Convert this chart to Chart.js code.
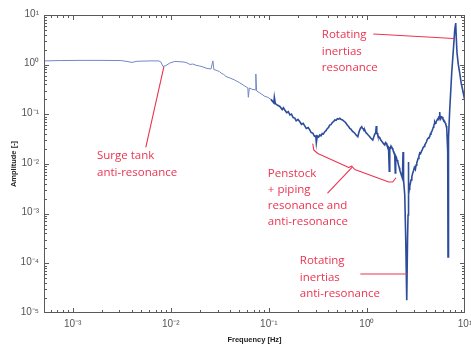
<!DOCTYPE html>
<html>
<head>
<meta charset="utf-8">
<script src="https://cdn.jsdelivr.net/npm/chart.js@4"></script>
<style>
  html, body { margin: 0; padding: 0; background: #fff; }
  #wrap { width: 471px; height: 348px; position: relative; }
</style>
</head>
<body>
<div id="wrap"><canvas id="c" width="471" height="348"></canvas></div>
<script>
// ---- data (frequency in Hz, amplitude [-]) ----
const freqHz = [
  5.1e-4, 7.4e-4, 1.19e-3, 1.9e-3, 3.1e-3, 3.58e-3, 4.02e-3, 4.52e-3, 6.13e-3, 7.57e-3,
  7.93e-3, 8.32e-3, 8.92e-3, 9.8e-3, 1.10e-2, 1.30e-2, 1.43e-2, 1.57e-2, 1.68e-2, 1.85e-2,
  1.98e-2, 2.13e-2, 2.34e-2, 2.57e-2, 2.69e-2, 2.75e-2, 3.02e-2, 3.15e-2, 3.32e-2, 3.45e-2,
  3.65e-2, 4.0e-2, 4.5e-2, 5.06e-2, 5.69e-2, 6.11e-2, 6.18e-2, 6.33e-2, 6.71e-2, 7.29e-2,
  7.37e-2, 7.51e-2, 8.1e-2, 9.1e-2, 9.77e-2, 0.105, 0.1125, 0.1138, 0.1165, 0.123,
  0.1295, 0.137, 0.141, 0.1455, 0.152, 0.158, 0.164, 0.17, 0.177, 0.184,
  0.19, 0.198, 0.207, 0.215, 0.224, 0.233, 0.241, 0.252, 0.262, 0.27,
  0.281, 0.292, 0.301, 0.305, 0.312, 0.322, 0.331, 0.34, 0.35, 0.36,
  0.372, 0.383, 0.395, 0.405, 0.418, 0.43, 0.445, 0.457, 0.47, 0.485,
  0.5, 0.515, 0.529, 0.545, 0.56, 0.578, 0.595, 0.612, 0.63, 0.65,
  0.669, 0.69, 0.71, 0.73, 0.752, 0.78, 0.807, 0.825, 0.84, 0.862,
  0.886, 0.9, 0.92, 0.935, 0.951, 0.975, 1.0, 1.035, 1.069, 1.1,
  1.147, 1.17, 1.19, 1.21, 1.231, 1.245, 1.26, 1.275, 1.29, 1.31,
  1.33, 1.352, 1.39, 1.43, 1.47, 1.52, 1.55, 1.58, 1.60, 1.631,
  1.66, 1.69, 1.71, 1.73, 1.76, 1.78, 1.81, 1.834, 1.86, 1.88,
  1.90, 1.922, 1.945, 1.965, 1.991, 2.03, 2.062, 2.11, 2.14, 2.161,
  2.21, 2.265, 2.30, 2.335, 2.35, 2.374, 2.43, 2.488, 2.547, 2.595,
  2.626, 2.644, 2.669, 2.70, 2.733, 2.78, 2.82, 2.87, 2.932, 2.99,
  3.05, 3.12, 3.17, 3.221, 3.28, 3.33, 3.39, 3.456, 3.52, 3.6,
  3.67, 3.75, 3.82, 3.886, 3.97, 4.05, 4.12, 4.2, 4.28, 4.37,
  4.43, 4.5, 4.6, 4.687, 4.75, 4.8, 4.86, 4.912, 4.98, 5.05,
  5.15, 5.271, 5.33, 5.4, 5.47, 5.524, 5.57, 5.655, 5.75, 5.85,
  5.95, 6.067, 6.13, 6.2, 6.28, 6.359, 6.43, 6.51, 6.665, 6.711,
  6.79, 6.984, 7.32, 7.67, 7.855, 8.04, 8.17, 8.29, 8.55, 8.83,
  9.15, 9.475, 9.93
];
const amplitude = [
  1.19, 1.21, 1.22, 1.22, 1.21, 1.16, 1.11, 1.17, 1.19, 1.19,
  1.13, 0.92, 0.96, 1.08, 1.16, 1.14, 1.11, 1.01, 1.03, 0.96,
  0.94, 0.90, 0.84, 0.82, 1.19, 0.80, 0.75, 0.72, 0.66, 0.64,
  0.58, 0.54, 0.49, 0.43, 0.37, 0.34, 0.22, 0.34, 0.32, 0.31,
  0.65, 0.295, 0.27, 0.23, 0.22, 0.20, 0.17, 0.22, 0.165, 0.152,
  0.144, 0.125, 0.136, 0.122, 0.108, 0.113, 0.097, 0.101, 0.086, 0.084,
  0.074, 0.079, 0.071, 0.063, 0.066, 0.058, 0.052, 0.054, 0.048, 0.043,
  0.042, 0.036, 0.0366, 0.0265, 0.0366, 0.035, 0.0384, 0.037, 0.041, 0.040,
  0.0447, 0.047, 0.052, 0.054, 0.061, 0.062, 0.069, 0.071, 0.077, 0.076,
  0.082, 0.080, 0.083, 0.079, 0.078, 0.074, 0.071, 0.066, 0.061, 0.057,
  0.052, 0.050, 0.046, 0.044, 0.0415, 0.038, 0.0355, 0.042, 0.047, 0.053,
  0.0564, 0.052, 0.051, 0.047, 0.0484, 0.043, 0.041, 0.038, 0.0355, 0.033,
  0.0304, 0.034, 0.038, 0.041, 0.0447, 0.058, 0.043, 0.042, 0.038, 0.036,
  0.035, 0.0334, 0.030, 0.028, 0.026, 0.0241, 0.027, 0.026, 0.024, 0.023,
  0.022, 0.0072, 0.021, 0.0207, 0.023, 0.022, 0.021, 0.0201, 0.018, 0.017,
  0.0165, 0.0152, 0.0066, 0.0145, 0.0138, 0.0121, 0.0110, 0.0092, 0.0084, 0.0076,
  0.0066, 0.0057, 0.0052, 0.0175, 0.0050, 0.0048, 0.0024, 0.0003, 1.8e-5, 0.0003,
  0.00094, 0.011, 0.0024, 0.0031, 0.0036, 0.0042, 0.0048, 0.0055, 0.0066, 0.0074,
  0.0085, 0.0078, 0.0095, 0.0105, 0.0118, 0.013, 0.0145, 0.0167, 0.0162, 0.018,
  0.0195, 0.0215, 0.0225, 0.0241, 0.026, 0.028, 0.031, 0.033, 0.034, 0.0355,
  0.040, 0.042, 0.046, 0.0507, 0.055, 0.058, 0.064, 0.0701, 0.066, 0.068,
  0.075, 0.0806, 0.078, 0.086, 0.084, 0.1115, 0.085, 0.0832, 0.089, 0.088,
  0.081, 0.0769, 0.074, 0.071, 0.067, 0.0639, 0.058, 0.0531, 0.0175, 1.34e-4,
  0.0334, 0.122, 0.68, 2.49, 4.99, 6.9, 3.14, 1.72, 1.0, 0.68,
  0.42, 0.309, 0.194
];

// ---- axes ----
const xRange = [5.1e-4, 10];
const yRange = [1e-5, 10];
const xMajorTicks = [1e-3, 1e-2, 1e-1, 1, 10];
const xTickLabels = ['10\u207B\u00B3', '10\u207B\u00B2', '10\u207B\u00B9', '10\u2070', '10\u00B9'];
const yMajorTicks = [1e-5, 1e-4, 1e-3, 1e-2, 1e-1, 1, 10];
const yTickLabels = ['10\u207B\u2075', '10\u207B\u2074', '10\u207B\u00B3', '10\u207B\u00B2', '10\u207B\u00B9', '10\u2070', '10\u00B9'];
const xTitle = 'Frequency [Hz]';
const yTitle = 'Amplitude [-]';

// ---- annotations (anchored in data coordinates) ----
const noteTexts = [
  ['Surge tank', 'anti-resonance'],
  ['Rotating', 'inertias', 'resonance'],
  ['Penstock', '+ piping', 'resonance and', 'anti-resonance'],
  ['Rotating', 'inertias', 'anti-resonance']
];
const noteAnchors = [[1.77e-3, 0.0145], [0.3467, 3.956], [0.0977, 0.0065], [0.2069, 1.115e-4]];
const leaderLines = [
  [[5.58e-3, 0.022], [8.5e-3, 0.90]],
  [[1.174, 4.145], [7.67, 3.364]],
  [[0.866, 6.1e-5], [2.547, 6.1e-5]],
  [[0.7008, 0.0085], [0.3993, 0.00261]],
  [[0.2808, 0.0253], [0.2874, 0.0191], [0.3157, 0.0163], [0.6532, 0.00851], [0.7008, 0.0091],
   [0.7517, 0.00775], [1.670, 0.00434], [1.834, 0.00434], [1.968, 0.00523]]
];

function buildLogTicks(min, max) {
  const out = [];
  for (let e = Math.floor(Math.log10(min)); e <= Math.ceil(Math.log10(max)); e++) {
    for (let m = 1; m <= 9; m++) {
      const v = parseFloat((m * Math.pow(10, e)).toPrecision(6));
      if (v >= min * 0.9999 && v <= max * 1.0001) out.push(v);
    }
  }
  return out;
}
function isMajor(v, majors) {
  return majors.findIndex(m => Math.abs(Math.log10(m) - Math.log10(v)) < 1e-6);
}

const framePlugin = {
  id: 'frame',
  afterDatasetsDraw(chart) {
    const {ctx, chartArea: a, scales: {x, y}} = chart;
    ctx.save();
    ctx.strokeStyle = '#5a5a5a';
    ctx.lineWidth = 1;
    ctx.strokeRect(a.left + 0.5, a.top + 0.5, a.right - a.left - 1, a.bottom - a.top - 1);
    ctx.beginPath();
    x.ticks.forEach(t => {
      const px = Math.round(x.getPixelForValue(t.value)) + 0.5;
      if (px <= a.left + 1 || px >= a.right - 1) return;
      const len = isMajor(t.value, xMajorTicks) >= 0 ? 5 : 3;
      ctx.moveTo(px, a.bottom); ctx.lineTo(px, a.bottom - len);
      ctx.moveTo(px, a.top); ctx.lineTo(px, a.top + len);
    });
    y.ticks.forEach(t => {
      const py = Math.round(y.getPixelForValue(t.value)) + 0.5;
      if (py <= a.top + 1 || py >= a.bottom - 1) return;
      const len = isMajor(t.value, yMajorTicks) >= 0 ? 5 : 3;
      ctx.moveTo(a.left, py); ctx.lineTo(a.left + len, py);
      ctx.moveTo(a.right, py); ctx.lineTo(a.right - len, py);
    });
    ctx.stroke();
    ctx.restore();
  },
  afterDraw(chart) {
    const {ctx, scales: {x, y}} = chart;
    const P = (p) => [x.getPixelForValue(p[0]), y.getPixelForValue(p[1])];
    ctx.save();
    ctx.strokeStyle = '#ec3450';
    ctx.fillStyle = '#ec3450';
    ctx.lineWidth = 1.1;
    ctx.lineJoin = 'round';
    ctx.lineCap = 'round';
    leaderLines.forEach(line => {
      ctx.beginPath();
      line.forEach((p, i) => {
        const [px, py] = P(p);
        if (i === 0) ctx.moveTo(px, py); else ctx.lineTo(px, py);
      });
      ctx.stroke();
    });
    ctx.font = '11.5px "Open Sans", sans-serif';
    ctx.textAlign = 'left';
    ctx.textBaseline = 'middle';
    noteTexts.forEach((lines, k) => {
      const [px, py] = P(noteAnchors[k]);
      lines.forEach((s, i) => ctx.fillText(s, px, py + i * 16.3));
    });
    ctx.restore();
  }
};

const points = freqHz.map((f, i) => ({x: f, y: amplitude[i]}));

new Chart(document.getElementById('c'), {
  type: 'line',
  data: {
    datasets: [{
      data: points,
      borderColor: '#2d4c9c',
      borderWidth: 1,
      pointRadius: 0,
      tension: 0,
      segment: {
        borderWidth: c => (c.p0.parsed.x > 0.1 ? 1.6 : 1),
        borderColor: c => (c.p0.parsed.x > 0.1 ? '#2d4c9c' : '#7088c6')
      }
    }]
  },
  options: {
    responsive: false,
    devicePixelRatio: 1,
    animation: false,
    layout: {padding: {left: 0, top: 15, right: 6, bottom: 0}},
    plugins: {legend: {display: false}, tooltip: {enabled: false}},
    scales: {
      x: {
        type: 'logarithmic',
        min: xRange[0], max: xRange[1],
        grid: {display: false, drawTicks: false},
        border: {display: false},
        afterBuildTicks: s => { s.ticks = buildLogTicks(xRange[0], xRange[1]).map(v => ({value: v})); },
        afterFit: s => { s.height = 35; s.paddingLeft = 0; s.paddingRight = 0; },
        ticks: {
          autoSkip: false, maxRotation: 0, minRotation: 0, padding: 5,
          color: '#555', font: {family: 'Liberation Sans', size: 10},
          callback: v => { const i = isMajor(v, xMajorTicks); return i >= 0 ? xTickLabels[i] : ''; }
        },
        title: {display: true, text: xTitle, color: '#222', padding: {top: 4, bottom: 4},
                font: {family: 'Liberation Sans', size: 7.5, weight: 'bold'}}
      },
      y: {
        type: 'logarithmic',
        min: yRange[0], max: yRange[1],
        grid: {display: false, drawTicks: false},
        border: {display: false},
        afterBuildTicks: s => { s.ticks = buildLogTicks(yRange[0], yRange[1]).map(v => ({value: v})); },
        afterFit: s => { s.width = 44; s.paddingTop = 0; s.paddingBottom = 0; },
        ticks: {
          autoSkip: false, padding: 5, labelOffset: -1,
          color: '#555', font: {family: 'Liberation Sans', size: 10},
          callback: v => { const i = isMajor(v, yMajorTicks); return i >= 0 ? yTickLabels[i] : ''; }
        },
        title: {display: true, text: yTitle, color: '#222', padding: {top: 9, bottom: 9},
                font: {family: 'Liberation Sans', size: 7.5, weight: 'bold'}}
      }
    }
  },
  plugins: [framePlugin]
});
</script>
</body>
</html>
